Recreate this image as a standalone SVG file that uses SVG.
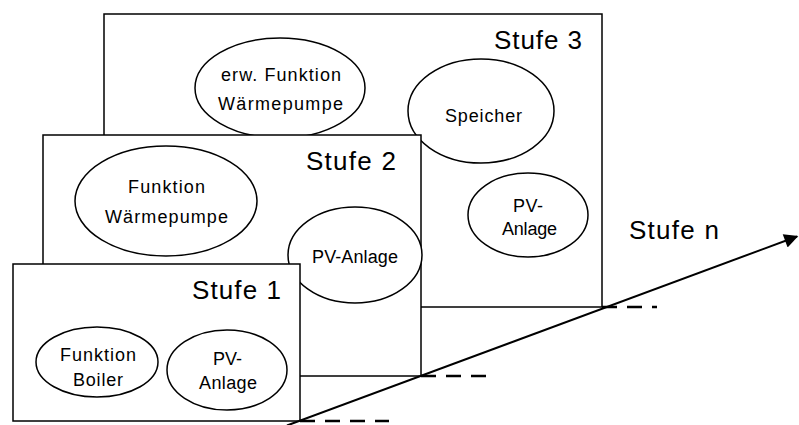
<svg xmlns="http://www.w3.org/2000/svg" width="799" height="425" viewBox="0 0 799 425">
  <style>
    .box { fill: #fff; stroke: #000; stroke-width: 1.5; }
    .oval { fill: #fff; stroke: #000; stroke-width: 1.5; }
    .lbl { font-family: "Liberation Sans", Arial, sans-serif; font-size: 18px; fill: #000; }
    .stage { font-family: "Liberation Sans", Arial, sans-serif; font-size: 26px; fill: #000; }
    .axis { stroke: #000; stroke-width: 2; fill: none; }
    .level { stroke: #000; stroke-width: 2.5; stroke-dasharray: 15 10; fill: none; }
  </style>
  <defs>
    <marker id="arrowhead" viewBox="0 0 10 10" refX="9" refY="5" markerWidth="9" markerHeight="7" markerUnits="strokeWidth" orient="auto">
      <path d="M0,0 L10,5 L0,10 Z" fill="#000"/>
    </marker>
  </defs>
  <rect width="799" height="425" fill="#fff"/>

  <!-- Stage 3 -->
  <g id="stufe3">
    <rect class="box" x="104" y="14" width="498" height="293"/>
    <text class="stage" x="494" y="49" textLength="88" lengthAdjust="spacing">Stufe 3</text>
    <g id="s3-waermepumpe">
      <ellipse class="oval" cx="280" cy="88" rx="85" ry="50"/>
      <text class="lbl" x="221" y="81" textLength="120" lengthAdjust="spacing">erw. Funktion</text>
      <text class="lbl" x="218" y="110" textLength="125" lengthAdjust="spacing">Wärmepumpe</text>
    </g>
    <g id="s3-speicher">
      <ellipse class="oval" cx="481" cy="111" rx="73" ry="52"/>
      <text class="lbl" x="445" y="122" textLength="77" lengthAdjust="spacing">Speicher</text>
    </g>
    <g id="s3-pv">
      <ellipse class="oval" cx="528" cy="215" rx="60" ry="42"/>
      <text class="lbl" x="513" y="212" textLength="30" lengthAdjust="spacing">PV-</text>
      <text class="lbl" x="502" y="235" textLength="55" lengthAdjust="spacing">Anlage</text>
    </g>
  </g>

  <!-- Stage 2 -->
  <g id="stufe2">
    <rect class="box" x="43" y="135" width="378" height="241"/>
    <text class="stage" x="306" y="170" textLength="90" lengthAdjust="spacing">Stufe 2</text>
    <g id="s2-waermepumpe">
      <ellipse class="oval" cx="166" cy="201" rx="91" ry="55"/>
      <text class="lbl" x="128" y="193" textLength="77" lengthAdjust="spacing">Funktion</text>
      <text class="lbl" x="105" y="223" textLength="123" lengthAdjust="spacing">Wärmepumpe</text>
    </g>
    <g id="s2-pv">
      <ellipse class="oval" cx="355" cy="255" rx="67" ry="48"/>
      <text class="lbl" x="312" y="263" textLength="86" lengthAdjust="spacing">PV-Anlage</text>
    </g>
  </g>

  <!-- Stage 1 -->
  <g id="stufe1">
    <rect class="box" x="13" y="264" width="287" height="157"/>
    <text class="stage" x="192" y="299" textLength="89" lengthAdjust="spacing">Stufe 1</text>
    <g id="s1-boiler">
      <ellipse class="oval" cx="97" cy="362" rx="61" ry="35"/>
      <text class="lbl" x="60" y="361" textLength="76" lengthAdjust="spacing">Funktion</text>
      <text class="lbl" x="73" y="386" textLength="50" lengthAdjust="spacing">Boiler</text>
    </g>
    <g id="s1-pv">
      <ellipse class="oval" cx="227" cy="370" rx="60" ry="40"/>
      <text class="lbl" x="213" y="365" textLength="29" lengthAdjust="spacing">PV-</text>
      <text class="lbl" x="199" y="389" textLength="58" lengthAdjust="spacing">Anlage</text>
    </g>
  </g>

  <!-- Stage n label -->
  <g id="stufen">
    <text class="stage" x="629" y="239" textLength="90" lengthAdjust="spacing">Stufe n</text>
  </g>

  <!-- Progression axis and level marks -->
  <g id="connectors">
    <line class="level" x1="300" y1="421" x2="389" y2="421"/>
    <line class="level" x1="421" y1="376" x2="491" y2="376"/>
    <line class="level" x1="602" y1="307" x2="657" y2="307"/>
    <line class="axis" x1="287" y1="425.5" x2="797" y2="236.5" marker-end="url(#arrowhead)"/>
  </g>
</svg>
